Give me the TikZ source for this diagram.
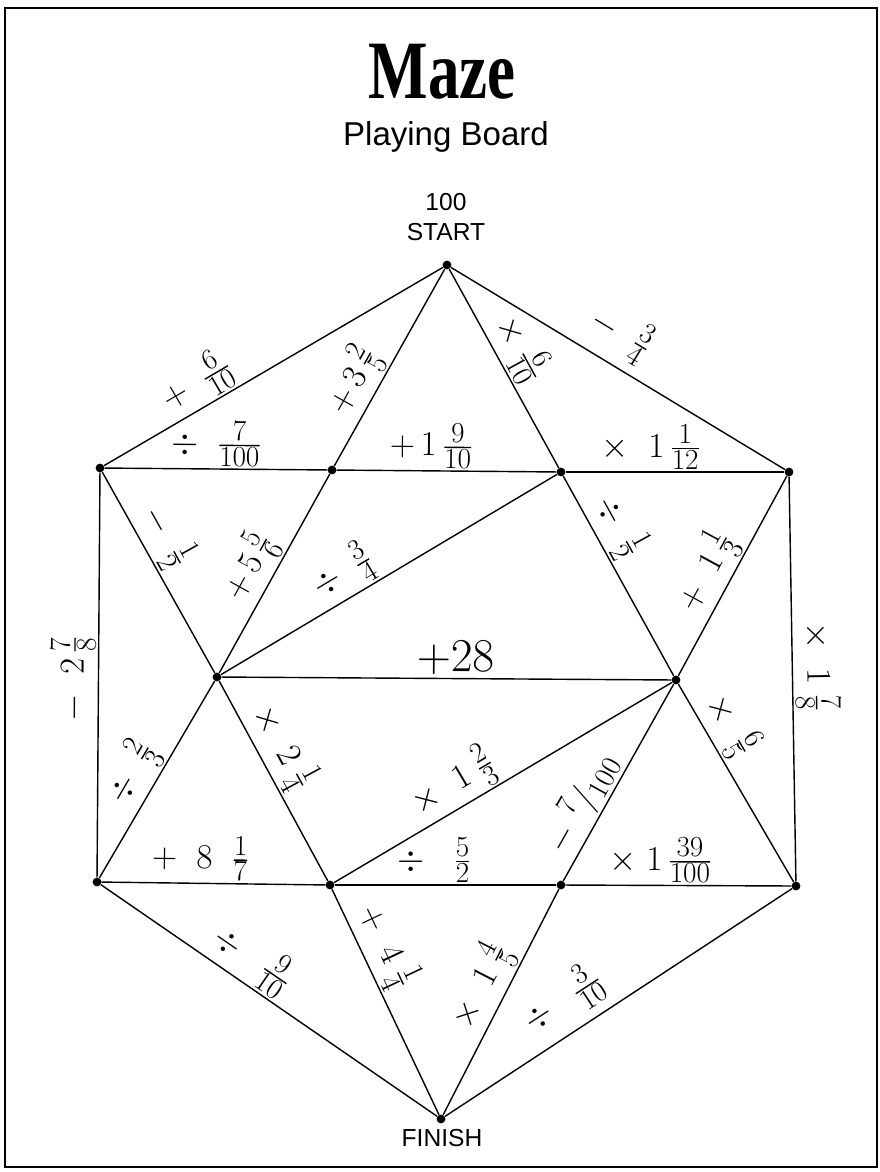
\documentclass[tikz,border=0pt]{standalone}
\usepackage{amsmath}
\usepackage{fontspec}
\usepackage{graphicx}
\newfontfamily\headfont{Liberation Serif}
\newfontfamily\boardfont{Liberation Sans}
\usetikzlibrary{positioning}
\tikzset{
	boardtext/.style={font=\boardfont\fontsize{17.5}{20}\selectfont}
}
\tikzset{
	oplabel/.style={sloped, above, inner sep=1.5pt, font=\Huge}
}

\begin{document}
\begin{tikzpicture}[x=0.025cm, y=-0.025cm]

      \tikzset{
        dot/.style={
            shape=circle,
            fill=black,
            minimum size=2.2mm,
            inner sep=0pt
          },
        edge/.style={line width=1pt}
      }

      \useasboundingbox (0,0) rectangle (880,1172);
      \draw[line width=1.6pt] (5,8) rectangle (877,1167);

      % heading
      \node[anchor=base] (title) at (442,98)
        {\scalebox{.76}[1]{\headfont\fontsize{59}{60}\selectfont\bfseries Maze}};
      \node[anchor=base, font=\boardfont\fontsize{23.5}{26}\selectfont] (subtitle) at (446,145) {Playing Board};
      \node[anchor=base, boardtext] (hundred) at (446,210) {100};
      \node[below=2pt of hundred, boardtext] (start) {START};

      % corners of the board
      \node[dot] (T) at (447,265) {};
      \node[dot] (LT) at (100,468) {};
      \node[dot] (A) at (332,470) {};
      \node[dot] (B) at (561,472) {};
      \node[dot] (RT) at (789,472) {};
      \node[dot] (LM) at (217,677) {};
      \node[dot] (RM) at (676,680) {};
      \node[dot] (BL) at (97,882) {};
      \node[dot] (C) at (330,885) {};
      \node[dot] (D) at (561,885) {};
      \node[dot] (BR) at (796,886) {};
      \node[dot] (F) at (441,1119) {};

      \node[anchor=base, boardtext] (finish) at (442,1146) {FINISH};

      % top part
      \draw[edge] (LT) -- node[oplabel, pos=.31] (l1) {$+\;\;\tfrac{6}{10}$} (T);
      \draw[edge] (A) -- node[oplabel, pos=.37] (l2) {$+\,3\,\tfrac{2}{5}$} (T);
      \draw[edge] (T) -- node[oplabel, pos=.46] (l3) {$\times\;\tfrac{6}{10}$} (B);
      \draw[edge] (T) -- node[oplabel, pos=.46, above=5pt] (l4) {$-\;\;\tfrac{3}{4}$} (RT);
      \draw[edge] (LT) -- node[oplabel, pos=.5] (l5) {$\div\;\;\tfrac{7}{100}$} (A);
      \draw[edge] (A) -- node[oplabel, pos=.43] (l6) {$+\,1\,\tfrac{9}{10}$} (B);
      \draw[edge] (B) -- node[oplabel, pos=.39] (l7) {$\times\;\;1\,\tfrac{1}{12}$} (RT);

      % middle part
      \draw[edge] (LT) -- node[oplabel, pos=.38] (l8) {$-\;\;\tfrac{1}{2}$} (LM);
      \draw[edge] (LM) -- node[oplabel, pos=.47] (l9) {$+\,5\,\tfrac{5}{6}$} (A);
      \draw[edge] (LM) -- node[oplabel, pos=.40] (l10) {$\div\;\;\tfrac{3}{4}$} (B);
      \draw[edge] (B) -- node[oplabel, pos=.31] (l11) {$\div\;\;\tfrac{1}{2}$} (RM);
      \draw[edge] (RM) -- node[oplabel, pos=.46] (l12) {$+\;\;1\,\tfrac{1}{3}$} (RT);
      \draw[edge] (BL) -- node[oplabel, pos=.49] (l13) {$-\;\;2\,\tfrac{7}{8}$} (LT);
      \draw[edge] (RT) -- node[oplabel, pos=.47] (l14) {$\times\;\;1\;\tfrac{7}{8}$} (BR);
      \draw[edge] (LM) -- node[oplabel, pos=.52, scale=1.35] (l15) {$+28$} (RM);

      % lower part
      \draw[edge] (BL) -- node[oplabel, pos=.47] (l16) {$\div\;\;\tfrac{2}{3}$} (LM);
      \draw[edge] (LM) -- node[oplabel, pos=.39] (l17) {$\times\;\;2\;\tfrac{1}{4}$} (C);
      \draw[edge] (C) -- node[oplabel, pos=.39] (l18) {$\times\;\;1\;\tfrac{2}{3}$} (RM);
      \draw[edge] (D) -- node[oplabel, pos=.34] (l19) {$-\;{}^{7}/_{100}$} (RM);
      \draw[edge] (RM) -- node[oplabel, pos=.27] (l20) {$\times\;\;\tfrac{6}{5}$} (BR);
      \draw[edge] (BL) -- node[oplabel, pos=.44] (l21) {$+\;\;8\;\;\tfrac{1}{7}$} (C);
      \draw[edge] (C) -- node[oplabel, pos=.45] (l22) {$\div\;\;\;\tfrac{5}{2}$} (D);
      \draw[edge] (D) -- node[oplabel, pos=.42] (l23) {$\times\;1\,\tfrac{39}{100}$} (BR);

      % down to the finish
      \draw[edge] (BL) -- node[oplabel, pos=.41] (l24) {$\div\;\;\;\tfrac{9}{10}$} (F);
      \draw[edge] (C) -- node[oplabel, pos=.30] (l25) {$+\;\;4\;\tfrac{1}{4}$} (F);
      \draw[edge] (F) -- node[oplabel, pos=.52] (l26) {$\times\;\;1\;\tfrac{4}{5}$} (D);
      \draw[edge] (F) -- node[oplabel, pos=.39, above=5pt] (l27) {$\div\;\;\;\tfrac{3}{10}$} (BR);
    \end{tikzpicture}
\end{document}
